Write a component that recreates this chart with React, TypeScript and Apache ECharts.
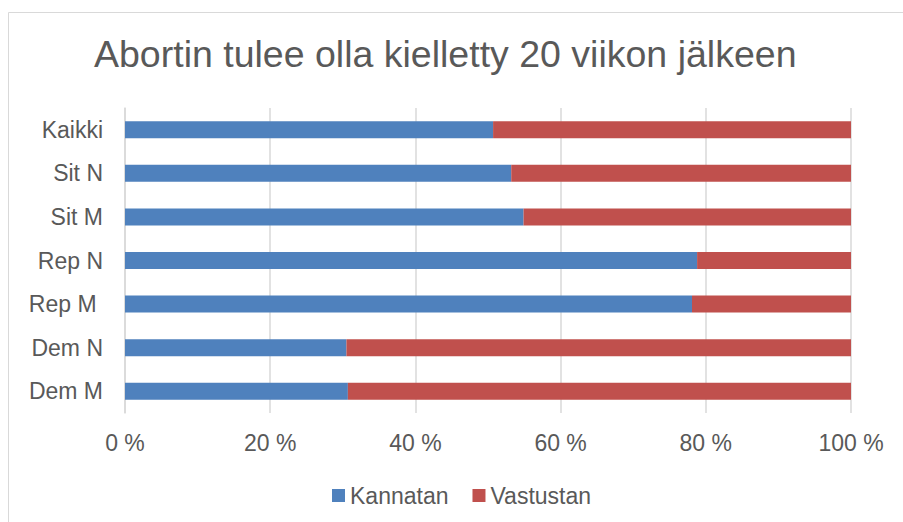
import React, { useEffect, useRef } from "react";
import * as echarts from "echarts";

const categories = ["Kaikki", "Sit N", "Sit M", "Rep N", "Rep M ", "Dem N", "Dem M"];
const kannatan = [50.7, 53.2, 54.9, 78.8, 78.1, 30.5, 30.7];
const vastustan = [49.3, 46.8, 45.1, 21.2, 21.9, 69.5, 69.3];
const xTicks = [0, 20, 40, 60, 80, 100];
const seriesNames = ["Kannatan", "Vastustan"];
const titleText = "Abortin tulee olla kielletty 20 viikon jälkeen";

const FONT = "'Liberation Sans', Arial, sans-serif";
const TEXT = "#595959";

export default function App() {
  const ref = useRef<HTMLDivElement>(null);
  useEffect(() => {
    if (!ref.current) return;
    const chart = echarts.init(ref.current, undefined, { renderer: "svg" });
    chart.setOption({
      animation: false,
      backgroundColor: "#ffffff",
      textStyle: { fontFamily: FONT },
      title: {
        text: titleText,
        left: 94,
        top: 35,
        padding: 0,
        textStyle: { fontSize: 37.5, fontWeight: "normal", color: TEXT, fontFamily: FONT },
      },
      graphic: [
        {
          type: "rect",
          shape: { x: 8.5, y: 12.5, width: 1000, height: 1000 },
          style: { fill: "none", stroke: "#d9d9d9", lineWidth: 1 },
          silent: true,
          z: -1,
        },
      ],
      legend: {
        data: seriesNames,
        left: 332,
        top: 484,
        padding: 0,
        icon: "rect",
        itemWidth: 13,
        itemHeight: 13,
        itemGap: 24,
        textStyle: { fontSize: 23, color: TEXT, fontFamily: FONT },
      },
      grid: { left: 125, right: 52, top: 108, bottom: 109, containLabel: false },
      xAxis: {
        type: "value",
        min: 0,
        max: 100,
        interval: 20,
        axisLine: { show: false },
        axisTick: { show: false },
        splitLine: { show: true, lineStyle: { color: "#d9d9d9", width: 1.5 } },
        axisLabel: {
          fontSize: 23,
          color: TEXT,
          margin: 18,
          fontFamily: FONT,
          formatter: (v: number) => (xTicks.includes(v) ? `${v} %` : ""),
        },
      },
      yAxis: {
        type: "category",
        data: categories,
        inverse: true,
        axisLine: { show: true, lineStyle: { color: "#d9d9d9", width: 1.5 } },
        axisTick: { show: false },
        axisLabel: { fontSize: 23, color: TEXT, margin: 22, fontFamily: FONT },
      },
      series: [
        {
          name: seriesNames[0],
          type: "bar",
          stack: "total",
          data: kannatan,
          barCategoryGap: "61%",
          itemStyle: { color: "#4F81BD" },
        },
        {
          name: seriesNames[1],
          type: "bar",
          stack: "total",
          data: vastustan,
          barCategoryGap: "61%",
          itemStyle: { color: "#C0504D" },
        },
      ],
    });
    return () => chart.dispose();
  }, []);
  return (
    <div
      ref={ref}
      style={{ position: "absolute", left: 0, top: 0, width: 903, height: 522 }}
    />
  );
}
